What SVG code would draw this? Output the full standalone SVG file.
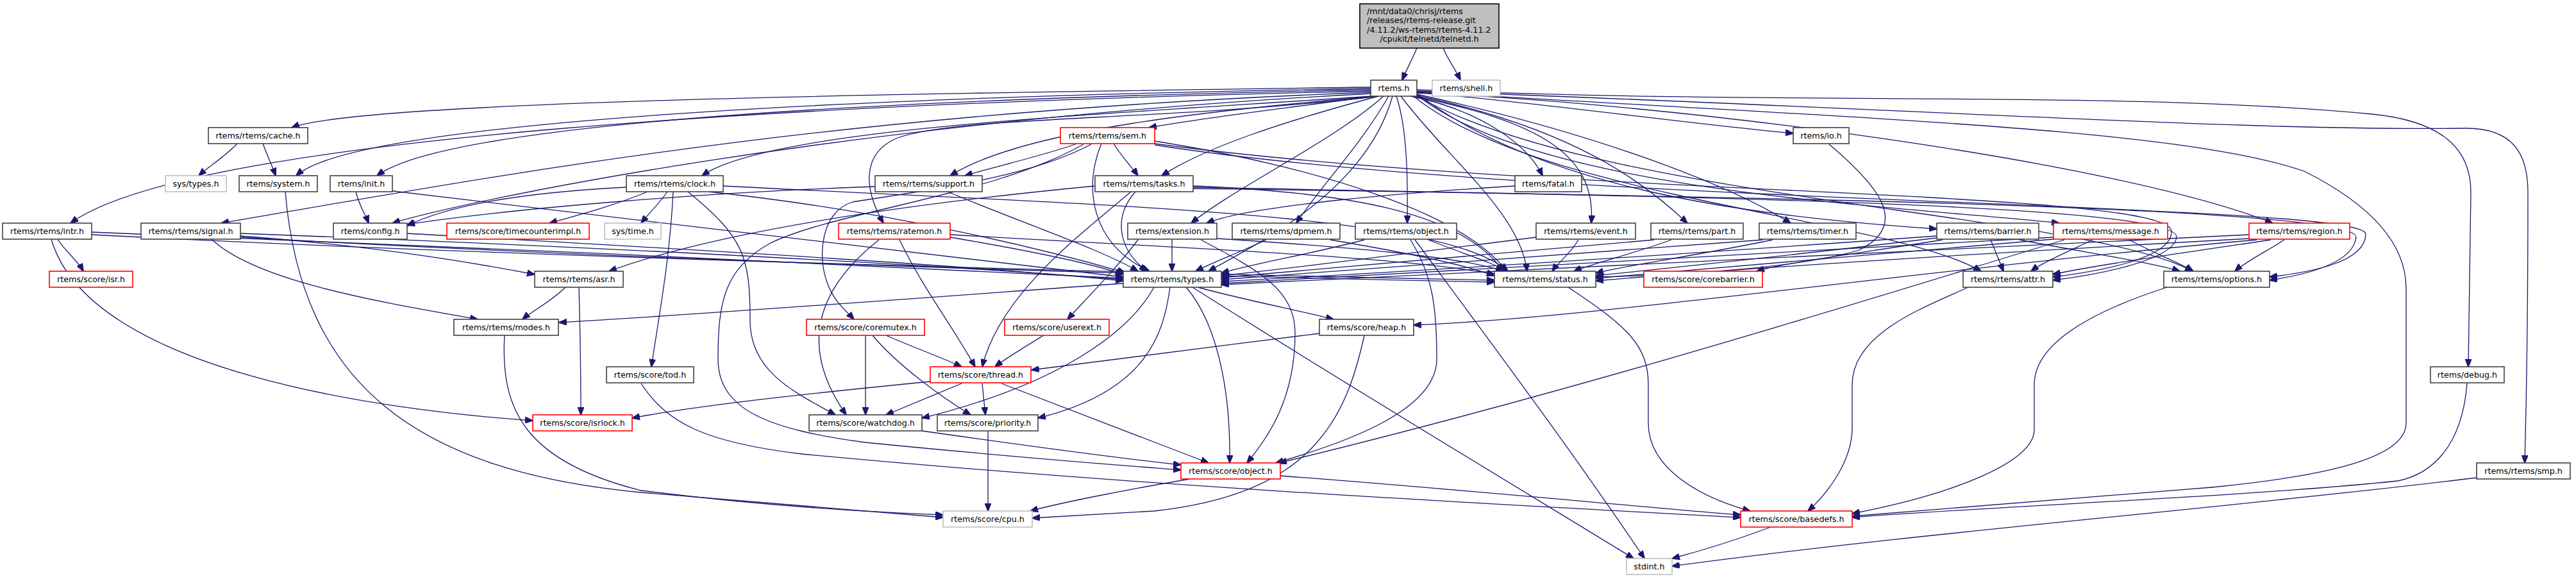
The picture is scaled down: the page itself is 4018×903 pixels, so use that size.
<svg xmlns="http://www.w3.org/2000/svg" width="4018" height="903" viewBox="0 0 4018 903">
<defs>
<marker id="ah" markerWidth="13" markerHeight="10" refX="12" refY="5" orient="auto" markerUnits="userSpaceOnUse"><path d="M0,0 L13,5 L0,10 Z" fill="#191970" stroke="#191970"/></marker>
<style>
.e path{fill:none;stroke:#191970;stroke-width:1.3;marker-end:url(#ah)}
.n rect{fill:#fff;stroke:#404040;stroke-width:1.6}
.n.r rect{stroke:#ff0000}
.n.g rect{stroke:#bfbfbf}
text{font-family:"DejaVu Sans",sans-serif;font-size:12.7px;fill:#000;text-anchor:middle}
</style>
</defs>
<rect width="4018" height="903" fill="#fff"/>
<g class="e" id="edges">
<path d="M2210,75 C2204,90 2194,108 2187,125"/>
<path d="M2251,75 C2257,90 2270,108 2278,125"/>
<path d="M2138,136 C1400,146 560,158 455,199"/>
<path d="M2138,138 C1400,150 560,185 462,274"/>
<path d="M2138,140 C1400,154 700,190 588,274"/>
<path d="M2138,142 C1300,160 300,210 110,348"/>
<path d="M2138,144 C1300,175 800,270 345,348"/>
<path d="M2138,146 C1300,190 720,315 612,348"/>
<path d="M2140,150 C1700,180 1200,200 1095,274"/>
<path d="M2145,150 C1900,172 1600,200 1482,274"/>
<path d="M2142,150 C2000,170 1900,180 1792,199"/>
<path d="M2150,150 C2000,190 1880,230 1812,274"/>
<path d="M2152,150 C1800,190 1500,180 1400,215 C1340,240 1350,300 1378,348"/>
<path d="M2158,150 C2080,220 1930,290 1858,348"/>
<path d="M2166,150 C2120,230 2060,290 2022,348"/>
<path d="M2178,150 C2195,200 2196,280 2195,348"/>
<path d="M2172,150 C2130,300 1960,380 1885,423"/>
<path d="M2185,150 C2260,250 2370,330 2382,423"/>
<path d="M2200,150 C2300,170 2380,220 2406,274"/>
<path d="M2205,150 C2400,190 2490,240 2482,348"/>
<path d="M2210,149 C2450,200 2560,280 2632,348"/>
<path d="M2210,147 C2500,210 2700,290 2793,348"/>
<path d="M2210,144 C2400,160 2650,195 2797,208"/>
<path d="M2210,146 C2400,290 2700,335 3021,357"/>
<path d="M2210,148 C2400,300 2950,320 3212,348"/>
<path d="M2205,150 C2400,310 2950,340 3090,423"/>
<path d="M2210,150 C2500,315 3250,330 3420,423"/>
<path d="M2210,145 C2600,160 3300,250 3545,348"/>
<path d="M2210,140 C2800,165 3300,140 3700,178 C3820,190 3854,240 3854,300 L3850,572"/>
<path d="M2210,142 C3000,170 3500,205 3846,200 C3920,200 3943,240 3943,300 C3943,500 3940,650 3938,722"/>
<path d="M2210,143 C2900,185 3400,200 3594,267 C3700,320 3753,380 3753,450 L3753,660 C3753,720 3600,745 3450,760 L2889,805"/>
<path d="M370,224 C350,245 325,260 310,274"/>
<path d="M410,224 C418,245 425,260 430,274"/>
<path d="M445,299 C470,600 650,735 1000,768 L1471,807"/>
<path d="M555,299 C560,320 570,335 575,348"/>
<path d="M605,297 C900,330 1500,405 1752,432"/>
<path d="M90,373 C100,390 120,405 130,423"/>
<path d="M143,362 C600,380 1300,410 1752,434"/>
<path d="M143,366 C700,395 1500,420 2331,437"/>
<path d="M80,373 C140,580 600,640 831,656"/>
<path d="M375,368 C600,385 750,412 834,428"/>
<path d="M330,373 C400,440 600,472 745,498"/>
<path d="M375,364 C800,380 1400,408 1752,436"/>
<path d="M375,370 C900,400 1600,425 2331,440"/>
<path d="M635,364 C1000,385 1500,412 1752,438"/>
<path d="M977,292 C820,300 700,320 635,352"/>
<path d="M1010,299 C960,320 900,336 857,348"/>
<path d="M1041,299 C1030,315 1012,333 1000,348"/>
<path d="M1050,299 C1045,400 1030,480 1016,572"/>
<path d="M1073,299 C1160,370 1170,400 1170,500 C1170,580 1240,612 1303,647"/>
<path d="M1128,290 C1700,320 2250,330 2352,423"/>
<path d="M1105,299 C1400,330 1650,395 1755,425"/>
<path d="M1365,291 C1100,300 800,325 635,350"/>
<path d="M1478,299 C1600,350 1720,390 1775,423"/>
<path d="M1680,224 C1620,245 1550,260 1505,274"/>
<path d="M1737,224 C1750,245 1765,260 1775,274"/>
<path d="M1718,224 C1690,290 1700,380 1793,423"/>
<path d="M1702,225 C1600,280 1420,300 1330,315 C1280,330 1275,400 1290,440 C1300,470 1320,485 1332,498"/>
<path d="M1690,225 C1550,305 1300,330 1200,380 C1130,420 1120,470 1120,560 C1120,640 1200,670 1350,690 C1600,715 1780,728 1842,733"/>
<path d="M1801,220 C2050,260 2280,330 2350,423"/>
<path d="M1801,224 C2400,305 3380,295 3387,360 C3390,405 3260,425 3202,432"/>
<path d="M1801,226 C2400,320 3690,315 3690,365 C3690,410 3600,425 3540,432"/>
<path d="M1708,290 C1500,310 1150,350 950,423"/>
<path d="M1764,299 C1680,370 1560,460 1532,572"/>
<path d="M1771,299 C1735,340 1745,390 1789,423"/>
<path d="M1861,290 C2100,300 2280,330 2345,423"/>
<path d="M1861,292 C2500,305 3400,315 3395,370 C3390,408 3260,430 3202,437"/>
<path d="M1861,294 C2600,305 3680,320 3675,370 C3670,410 3600,428 3540,437"/>
<path d="M1482,370 C1600,390 1700,410 1752,428"/>
<path d="M1482,366 C1800,385 2200,400 2331,428"/>
<path d="M1403,374 C1440,450 1480,500 1521,572"/>
<path d="M1371,374 C1300,430 1230,520 1320,647"/>
<path d="M1828,374 L1828,423"/>
<path d="M1775,374 C1740,420 1700,460 1665,498"/>
<path d="M1873,374 C1960,420 2020,450 2020,520 C2020,620 1980,680 1945,722"/>
<path d="M1898,372 C2100,385 2280,400 2345,423"/>
<path d="M1975,374 C1930,395 1890,410 1865,423"/>
<path d="M2075,374 C2200,395 2290,415 2331,430"/>
<path d="M2128,374 C2050,395 1960,410 1905,426"/>
<path d="M2200,374 C2235,430 2241,480 2241,560 C2241,640 2100,690 1990,722"/>
<path d="M2207,374 C2300,500 2450,700 2565,871"/>
<path d="M2228,374 C2280,395 2330,410 2350,423"/>
<path d="M2396,370 C2200,395 2000,420 1905,430"/>
<path d="M2462,374 C2450,395 2430,410 2421,423"/>
<path d="M2580,374 C2300,400 2050,422 1905,433"/>
<path d="M2607,374 C2550,395 2480,412 2455,423"/>
<path d="M2750,374 C2400,398 2100,422 1905,436"/>
<path d="M2765,374 C2650,398 2530,415 2489,426"/>
<path d="M3021,368 C2600,398 2200,424 1905,439"/>
<path d="M3021,371 C2800,398 2600,418 2489,430"/>
<path d="M3105,374 L3125,423"/>
<path d="M3150,374 C3260,395 3360,410 3400,423"/>
<path d="M3030,374 C2900,395 2780,410 2740,423"/>
<path d="M3203,370 C2700,400 2200,426 1905,442"/>
<path d="M3203,373 C2900,400 2650,420 2489,434"/>
<path d="M3264,374 C3220,395 3185,410 3168,423"/>
<path d="M3321,374 C3360,395 3400,410 3421,423"/>
<path d="M3220,374 C3000,440 2500,600 1995,722"/>
<path d="M3563,374 C3530,395 3500,410 3486,423"/>
<path d="M3542,374 C3400,395 3260,415 3202,428"/>
<path d="M3508,366 C2800,398 2200,426 1905,444"/>
<path d="M3510,372 C3000,400 2700,420 2489,438"/>
<path d="M3520,374 C3000,420 2500,495 2205,507"/>
<path d="M2853,225 C2930,290 2980,350 2900,390 C2800,420 2600,430 2489,432"/>
<path d="M2363,290 C2200,300 1950,320 1882,348"/>
<path d="M882,448 C860,470 830,485 815,498"/>
<path d="M903,448 C905,520 906,590 906,647"/>
<path d="M787,523 C780,640 820,720 1000,765 C1200,790 1350,798 1471,803"/>
<path d="M1752,442 C1500,460 1100,490 872,503"/>
<path d="M1868,448 C1950,470 2030,485 2080,498"/>
<path d="M1850,448 C1895,500 1920,600 1918,722"/>
<path d="M1800,448 C1760,520 1650,600 1438,652"/>
<path d="M1825,448 C1815,520 1790,610 1619,652"/>
<path d="M1860,448 C2100,600 2400,780 2548,871"/>
<path d="M2446,448 C2540,510 2571,540 2571,600 L2571,660 C2571,730 2650,775 2730,797"/>
<path d="M2058,520 C1900,540 1700,565 1609,577"/>
<path d="M2128,523 C2100,650 2050,770 1800,797 L1610,808"/>
<path d="M1382,523 C1420,540 1470,558 1500,572"/>
<path d="M1350,523 L1350,647"/>
<path d="M1361,523 C1400,570 1470,620 1514,647"/>
<path d="M1628,523 C1600,540 1570,558 1552,572"/>
<path d="M1451,595 C1300,610 1100,630 986,652"/>
<path d="M1500,598 C1460,615 1410,635 1382,647"/>
<path d="M1532,598 L1537,647"/>
<path d="M1562,598 C1700,650 1830,700 1885,722"/>
<path d="M1541,673 L1541,797"/>
<path d="M1438,672 C1600,695 1750,715 1842,725"/>
<path d="M1856,747 C1750,765 1650,785 1607,797"/>
<path d="M1997,742 C2300,765 2550,790 2715,803"/>
<path d="M1000,598 C1040,660 1100,690 1250,708 C1800,760 2400,790 2715,807"/>
<path d="M2762,822 C2700,845 2650,860 2608,871"/>
<path d="M3863,745 C3500,790 3000,830 2608,883"/>
<path d="M3848,598 C3840,700 3790,740 3740,750 C3500,775 3100,790 2889,807"/>
<path d="M3070,448 C3000,480 2889,520 2889,600 L2889,667 C2889,720 2850,770 2820,797"/>
<path d="M3380,448 C3250,490 3173,540 3173,600 L3173,670 C3173,720 3050,770 2889,801"/>
</g>
<g id="nodes">
<g id="n_telnetd" class="n"><rect x="2121" y="6" width="217" height="69" style="fill:#bfbfbf;stroke:#000"/><text x="2132" y="21.5" style="text-anchor:start">/mnt/data0/chrisj/rtems</text><text x="2132" y="36" style="text-anchor:start">/releases/rtems-release.git</text><text x="2132" y="50.5" style="text-anchor:start">/4.11.2/ws-rtems/rtems-4.11.2</text><text x="2229.5" y="65">/cpukit/telnetd/telnetd.h</text></g>
<g id="n_rtems" class="n"><rect x="2138" y="125" width="72" height="25"/><text x="2174" y="142">rtems.h</text></g>
<g id="n_shell" class="n g"><rect x="2234" y="125" width="106" height="25"/><text x="2287" y="142">rtems/shell.h</text></g>
<g id="n_cache" class="n"><rect x="325" y="199" width="155" height="25"/><text x="402.5" y="216">rtems/rtems/cache.h</text></g>
<g id="n_sem" class="n r"><rect x="1654" y="199" width="147" height="25"/><text x="1727.5" y="216">rtems/rtems/sem.h</text></g>
<g id="n_io" class="n"><rect x="2797" y="199" width="87" height="25"/><text x="2840.5" y="216">rtems/io.h</text></g>
<g id="n_systypes" class="n g"><rect x="258" y="274" width="95" height="25"/><text x="305.5" y="291">sys/types.h</text></g>
<g id="n_system" class="n"><rect x="373" y="274" width="122" height="25"/><text x="434" y="291">rtems/system.h</text></g>
<g id="n_init" class="n"><rect x="515" y="274" width="97" height="25"/><text x="563.5" y="291">rtems/init.h</text></g>
<g id="n_clock" class="n"><rect x="977" y="274" width="151" height="25"/><text x="1052.5" y="291">rtems/rtems/clock.h</text></g>
<g id="n_support" class="n"><rect x="1365" y="274" width="167" height="25"/><text x="1448.5" y="291">rtems/rtems/support.h</text></g>
<g id="n_tasks" class="n"><rect x="1708" y="274" width="153" height="25"/><text x="1784.5" y="291">rtems/rtems/tasks.h</text></g>
<g id="n_fatal" class="n"><rect x="2363" y="274" width="104" height="25"/><text x="2415" y="291">rtems/fatal.h</text></g>
<g id="n_intr" class="n"><rect x="4" y="348" width="139" height="25"/><text x="73.5" y="365">rtems/rtems/intr.h</text></g>
<g id="n_signal" class="n"><rect x="220" y="348" width="155" height="25"/><text x="297.5" y="365">rtems/rtems/signal.h</text></g>
<g id="n_config" class="n"><rect x="520" y="348" width="115" height="25"/><text x="577.5" y="365">rtems/config.h</text></g>
<g id="n_timecounter" class="n r"><rect x="697" y="348" width="222" height="25"/><text x="808" y="365">rtems/score/timecounterimpl.h</text></g>
<g id="n_systime" class="n g"><rect x="943" y="348" width="88" height="25"/><text x="987" y="365">sys/time.h</text></g>
<g id="n_ratemon" class="n r"><rect x="1308" y="348" width="174" height="25"/><text x="1395" y="365">rtems/rtems/ratemon.h</text></g>
<g id="n_extension" class="n"><rect x="1759" y="348" width="139" height="25"/><text x="1828.5" y="365">rtems/extension.h</text></g>
<g id="n_dpmem" class="n"><rect x="1922" y="348" width="168" height="25"/><text x="2006" y="365">rtems/rtems/dpmem.h</text></g>
<g id="n_robject" class="n"><rect x="2114" y="348" width="158" height="25"/><text x="2193" y="365">rtems/rtems/object.h</text></g>
<g id="n_event" class="n"><rect x="2396" y="348" width="155" height="25"/><text x="2473.5" y="365">rtems/rtems/event.h</text></g>
<g id="n_part" class="n"><rect x="2575" y="348" width="144" height="25"/><text x="2647" y="365">rtems/rtems/part.h</text></g>
<g id="n_timer" class="n"><rect x="2744" y="348" width="151" height="25"/><text x="2819.5" y="365">rtems/rtems/timer.h</text></g>
<g id="n_barrier" class="n"><rect x="3021" y="348" width="159" height="25"/><text x="3100.5" y="365">rtems/rtems/barrier.h</text></g>
<g id="n_message" class="n r"><rect x="3203" y="348" width="178" height="25"/><text x="3292" y="365">rtems/rtems/message.h</text></g>
<g id="n_region" class="n r"><rect x="3508" y="348" width="157" height="25"/><text x="3586.5" y="365">rtems/rtems/region.h</text></g>
<g id="n_isr" class="n r"><rect x="77" y="423" width="130" height="25"/><text x="142" y="440">rtems/score/isr.h</text></g>
<g id="n_asr" class="n"><rect x="834" y="423" width="138" height="25"/><text x="903" y="440">rtems/rtems/asr.h</text></g>
<g id="n_types" class="n"><rect x="1752" y="423" width="153" height="25"/><text x="1828.5" y="440">rtems/rtems/types.h</text></g>
<g id="n_status" class="n"><rect x="2331" y="423" width="158" height="25"/><text x="2410" y="440">rtems/rtems/status.h</text></g>
<g id="n_corebarrier" class="n r"><rect x="2564" y="423" width="185" height="25"/><text x="2656.5" y="440">rtems/score/corebarrier.h</text></g>
<g id="n_attr" class="n"><rect x="3062" y="423" width="140" height="25"/><text x="3132" y="440">rtems/rtems/attr.h</text></g>
<g id="n_options" class="n"><rect x="3375" y="423" width="165" height="25"/><text x="3457.5" y="440">rtems/rtems/options.h</text></g>
<g id="n_modes" class="n"><rect x="708" y="498" width="163" height="25"/><text x="789.5" y="515">rtems/rtems/modes.h</text></g>
<g id="n_coremutex" class="n r"><rect x="1258" y="498" width="184" height="25"/><text x="1350" y="515">rtems/score/coremutex.h</text></g>
<g id="n_userext" class="n r"><rect x="1567" y="498" width="163" height="25"/><text x="1648.5" y="515">rtems/score/userext.h</text></g>
<g id="n_heap" class="n"><rect x="2058" y="498" width="147" height="25"/><text x="2131.5" y="515">rtems/score/heap.h</text></g>
<g id="n_tod" class="n"><rect x="946" y="572" width="136" height="25"/><text x="1014" y="589">rtems/score/tod.h</text></g>
<g id="n_thread" class="n r"><rect x="1451" y="572" width="157" height="25"/><text x="1529.5" y="589">rtems/score/thread.h</text></g>
<g id="n_debug" class="n"><rect x="3791" y="572" width="115" height="25"/><text x="3848.5" y="589">rtems/debug.h</text></g>
<g id="n_isrlock" class="n r"><rect x="831" y="647" width="155" height="25"/><text x="908.5" y="664">rtems/score/isrlock.h</text></g>
<g id="n_watchdog" class="n"><rect x="1262" y="647" width="176" height="25"/><text x="1350" y="664">rtems/score/watchdog.h</text></g>
<g id="n_priority" class="n"><rect x="1462" y="647" width="157" height="25"/><text x="1540.5" y="664">rtems/score/priority.h</text></g>
<g id="n_sobject" class="n r"><rect x="1842" y="722" width="155" height="25"/><text x="1919.5" y="739">rtems/score/object.h</text></g>
<g id="n_smp" class="n"><rect x="3863" y="722" width="146" height="25"/><text x="3936" y="739">rtems/rtems/smp.h</text></g>
<g id="n_cpu" class="n g"><rect x="1471" y="797" width="139" height="25"/><text x="1540.5" y="814">rtems/score/cpu.h</text></g>
<g id="n_basedefs" class="n r"><rect x="2715" y="797" width="174" height="25"/><text x="2802" y="814">rtems/score/basedefs.h</text></g>
<g id="n_stdint" class="n g"><rect x="2537" y="871" width="71" height="25"/><text x="2572.5" y="888">stdint.h</text></g>
</g>
</svg>
